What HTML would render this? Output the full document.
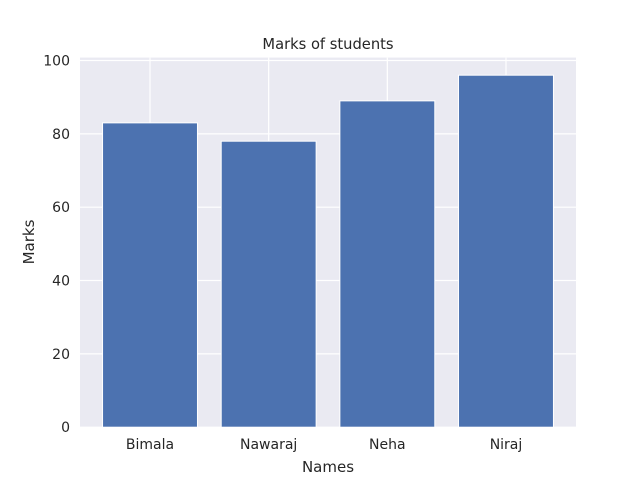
<!DOCTYPE html>
<html><head><meta charset="utf-8"><style>
html,body{margin:0;padding:0;background:#fff;}
svg{display:block;font-family:"DejaVu Sans","Liberation Sans",sans-serif;}
</style></head><body>
<svg id="chart" width="640" height="480" viewBox="0 0 640 480">
<rect x="80" y="57.6" width="496" height="369.6" fill="#eaeaf2"/>
<g id="grid"></g><g id="bars"></g><g id="ticks"></g>
<text x="328" y="49" text-anchor="middle" font-size="14.7" fill="#262626">Marks of students</text>
<text x="328" y="472" text-anchor="middle" font-size="15" fill="#262626">Names</text>
<text x="0" y="0" transform="translate(34,242) rotate(-90)" text-anchor="middle" font-size="15" fill="#262626">Marks</text>
</svg>
<script>
const categories=["Bimala","Nawaraj","Neha","Niraj"];
const marks=[83,78,89,96];
const yTicks=[0,20,40,60,80,100];
const L=80,R=576,T=57.6,B=427.2;
const ymax=Math.max(...marks)*1.05;
const xmin=-0.4-0.05*(categories.length-0.2), xmax=categories.length-0.6+0.05*(categories.length-0.2);
const xs=v=>L+(v-xmin)/(xmax-xmin)*(R-L);
const ys=v=>B-v/ymax*(B-T);
const NS="http://www.w3.org/2000/svg";
function mk(tag,attrs,parent){const e=document.createElementNS(NS,tag);for(const k in attrs)e.setAttribute(k,attrs[k]);document.getElementById(parent).appendChild(e);return e;}
yTicks.forEach(t=>{
 const g=mk("line",{x1:L,x2:R,y1:ys(t),y2:ys(t),stroke:"#fff","stroke-width":1.2},"grid");
 
 
 const tx=mk("text",{x:L-10,y:ys(t)+5,"text-anchor":"end","font-size":14,fill:"#262626"},"ticks");
 tx.textContent=t;
 
 
});
categories.forEach((c,i)=>{
 const g=mk("line",{x1:xs(i),x2:xs(i),y1:T,y2:B,stroke:"#fff","stroke-width":1.2},"grid");
 
 
 const w=xs(0.8)-xs(0);
 const b=mk("rect",{x:xs(i-0.4),y:ys(marks[i]),width:w,height:B-ys(marks[i]),fill:"#4c72b0",stroke:"#fff","stroke-width":1},"bars");
 
 
 const tx=mk("text",{x:xs(i),y:B+22,"text-anchor":"middle","font-size":14,fill:"#262626"},"ticks");
 tx.textContent=c;
 
 
});
</script>
</body></html>
